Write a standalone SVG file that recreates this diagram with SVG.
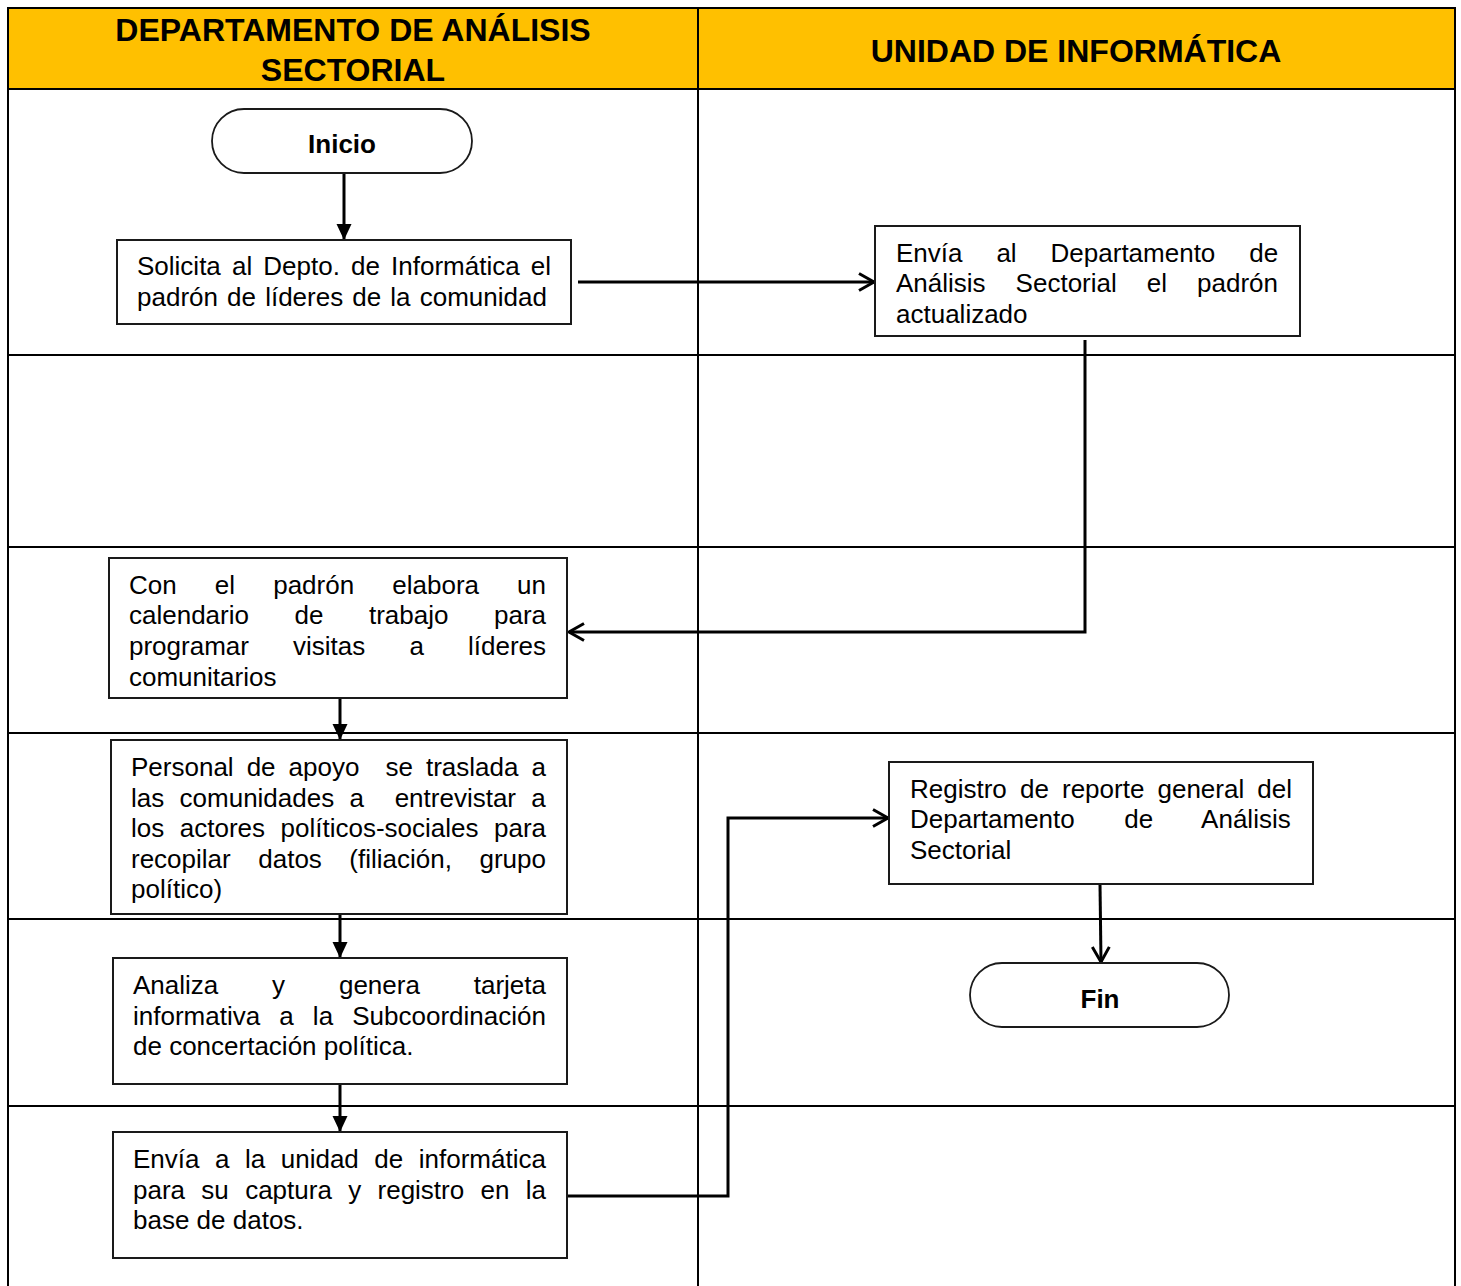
<svg xmlns="http://www.w3.org/2000/svg" width="1461" height="1286" viewBox="0 0 1461 1286">
<style>
.grid{stroke:#000;stroke-width:2;fill:none}
.box{fill:#fff;stroke:#1a1a1a;stroke-width:2}
.term{fill:#fff;stroke:#1a1a1a;stroke-width:1.8}
.t{font-family:"Liberation Sans",Arial,sans-serif;font-size:26px;fill:#000}
.tb{font-family:"Liberation Sans",Arial,sans-serif;font-size:26px;font-weight:bold;fill:#000}
.h{font-family:"Liberation Sans",Arial,sans-serif;font-size:32px;font-weight:bold;fill:#000}
.c{stroke:#000;stroke-width:3;fill:none}
</style>
<defs>
<marker id="fill" markerWidth="18" markerHeight="18" refX="16" refY="9" orient="auto" markerUnits="userSpaceOnUse">
<path d="M0,1.5 L16,9 L0,16.5 Z" fill="#000"/>
</marker>
<marker id="open" markerWidth="22" markerHeight="22" refX="18" refY="11" orient="auto" markerUnits="userSpaceOnUse">
<path d="M3,2.5 L18,11 L3,19.5" fill="none" stroke="#000" stroke-width="3"/>
</marker>
</defs>
<rect width="1461" height="1286" fill="#fff"/>
<g id="table">
<rect x="8" y="8" width="1447" height="81" fill="#FFC000"/>
<path class="grid" d="M8,1286 V8 H1455 V1286 M698,8 V1286 M8,89 H1455 M8,355 H1455 M8,547 H1455 M8,733 H1455 M8,919 H1455 M8,1106 H1455"/>
<text class="h" x="353" y="41" text-anchor="middle">DEPARTAMENTO DE ANÁLISIS</text>
<text class="h" x="353" y="81" text-anchor="middle">SECTORIAL</text>
<text class="h" x="1076" y="62" text-anchor="middle">UNIDAD DE INFORMÁTICA</text>
</g>
<g id="connectors">
<line class="c" x1="344" y1="174" x2="344" y2="240" marker-end="url(#fill)"/>
<line class="c" x1="578" y1="282" x2="874" y2="282" marker-end="url(#open)"/>
<polyline class="c" points="1085,340 1085,632 569,632" marker-end="url(#open)"/>
<line class="c" x1="340" y1="698" x2="340" y2="740" marker-end="url(#fill)"/>
<line class="c" x1="340" y1="914" x2="340" y2="958" marker-end="url(#fill)"/>
<line class="c" x1="340" y1="1084" x2="340" y2="1132" marker-end="url(#fill)"/>
<polyline class="c" points="567,1196 728,1196 728,818 888,818" marker-end="url(#open)"/>
<line class="c" x1="1100" y1="884" x2="1101" y2="962" marker-end="url(#open)"/>
</g>
<g id="inicio">
<rect class="term" x="212" y="109" width="260" height="64" rx="32" ry="32"/>
<text class="tb" x="342" y="153" text-anchor="middle">Inicio</text>
</g>
<g id="solicita">
<rect class="box" x="117" y="240" width="454" height="84"/>
<text class="t" x="137" y="275" word-spacing="3.9">Solicita al Depto. de Informática el</text>
<text class="t" x="137" y="306" word-spacing="1.9">padrón de líderes de la comunidad</text>
</g>
<g id="envia-padron">
<rect class="box" x="875" y="226" width="425" height="110"/>
<text class="t" x="896" y="262" word-spacing="26.7">Envía al Departamento de</text>
<text class="t" x="896" y="292" word-spacing="22.8">Análisis Sectorial el padrón</text>
<text class="t" x="896" y="323">actualizado</text>
</g>
<g id="calendario">
<rect class="box" x="109" y="558" width="458" height="140"/>
<text class="t" x="129" y="594" word-spacing="30.9">Con el padrón elabora un</text>
<text class="t" x="129" y="624" word-spacing="38.3">calendario de trabajo para</text>
<text class="t" x="129" y="655" word-spacing="36.9">programar visitas a líderes</text>
<text class="t" x="129" y="686">comunitarios</text>
</g>
<g id="personal">
<rect class="box" x="111" y="740" width="456" height="174"/>
<text class="t" x="131" y="776" word-spacing="5.8" xml:space="preserve">Personal de apoyo  se traslada a</text>
<text class="t" x="131" y="807" word-spacing="8.1" xml:space="preserve">las comunidades a  entrevistar a</text>
<text class="t" x="131" y="837" word-spacing="8.3">los actores políticos-sociales para</text>
<text class="t" x="131" y="868" word-spacing="20.3">recopilar datos (filiación, grupo</text>
<text class="t" x="131" y="898">político)</text>
</g>
<g id="analiza">
<rect class="box" x="113" y="958" width="454" height="126"/>
<text class="t" x="133" y="994" word-spacing="46.6">Analiza y genera tarjeta</text>
<text class="t" x="133" y="1025" word-spacing="11.9">informativa a la Subcoordinación</text>
<text class="t" x="133" y="1055">de concertación política.</text>
</g>
<g id="envia-unidad">
<rect class="box" x="113" y="1132" width="454" height="126"/>
<text class="t" x="133" y="1168" word-spacing="8.3">Envía a la unidad de informática</text>
<text class="t" x="133" y="1199" word-spacing="9.1">para su captura y registro en la</text>
<text class="t" x="133" y="1229">base de datos.</text>
</g>
<g id="registro">
<rect class="box" x="889" y="762" width="424" height="122"/>
<text class="t" x="910" y="798" word-spacing="5.9">Registro de reporte general del</text>
<text class="t" x="910" y="828" word-spacing="42.2">Departamento de Análisis</text>
<text class="t" x="910" y="859">Sectorial</text>
</g>
<g id="fin">
<rect class="term" x="970" y="963" width="259" height="64" rx="32" ry="32"/>
<text class="tb" x="1100" y="1008" text-anchor="middle">Fin</text>
</g>
</svg>
